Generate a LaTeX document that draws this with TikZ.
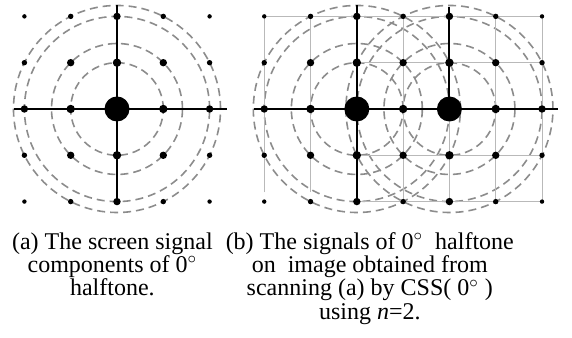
\documentclass[tikz,border=0pt]{standalone}
\usepackage{fontspec}
\setmainfont{Liberation Serif}
\begin{document}
\begin{tikzpicture}[
    x=23.15pt, y=23.15pt,
    eje/.style={line width=1pt, black},
    rejilla/.style={line width=0.5pt, gray!55},
    circulo/.style={line width=0.8pt, gray!90, dash pattern=on 4pt off 2.5pt},
    leyenda/.style={align=center, font=\fontsize{12}{11.6}\selectfont, inner sep=0pt, anchor=north}
  ]
  \useasboundingbox (-2.527,2.354) rectangle (9.827,-4.946);
  \coordinate (ca) at (0,0);
  \coordinate (cb) at (5.18,0);
  \coordinate (cc) at (7.18,0);

  % circulos de frecuencia
  \foreach \r in {1,1.4142,2,2.2361} {
    \draw[circulo] (ca) circle[radius=\r];
    \draw[circulo] (cb) circle[radius=\r];
    \draw[circulo] (cc) circle[radius=\r];
  }

  % rejilla de (b)
  \begin{scope}[shift={(cb)}]
    \draw[rejilla] (-2,-1.8) -- (-2,2) -- (4,2) -- (4,-2) -- (0,-2);
    \draw[rejilla] (-1,-1.8) -- (-1,2);
    \foreach \i in {1,3} \draw[rejilla] (\i,2) -- (\i,-2);
    \foreach \j in {1,-1} \draw[rejilla] (0,\j) -- (4,\j);
    \draw[rejilla] (2,0) -- (2,-2);
    \draw[eje] (-2.22,0) -- (4.34,0);
    \draw[eje] (0,2.25) -- (0,-2);
    \draw[eje] (2,2.2) -- (2,0);
  \end{scope}

  % ejes de (a)
  \draw[eje] (-2.22,0) -- (2.38,0);
  \draw[eje] (0,2.25) -- (0,-2);

  % puntos
  \foreach \i in {-2,...,2}
    \foreach \j in {-2,...,2} {
      \pgfmathsetmacro\dd{\i*\i+\j*\j}
      \pgfmathsetmacro\rr{\dd==0 ? 12.5 : (\dd==1 ? 4.2 : (\dd<5 ? 3.7 : (\dd==5 ? 2.7 : 2.2)))}
      \fill[shift={(ca)}] (\i,\j) circle[radius=\rr*0.5pt];
    }
  \foreach \i in {-2,...,4}
    \foreach \j in {-2,...,2} {
      \pgfmathsetmacro\dd{min(\i*\i+\j*\j,(\i-2)*(\i-2)+\j*\j)}
      \pgfmathsetmacro\rr{\dd==0 ? 12.5 : (\dd==1 ? 4.2 : (\dd<5 ? 3.7 : (\dd==5 ? 2.7 : 2.2)))}
      \fill[shift={(cb)}] (\i,\j) circle[radius=\rr*0.5pt];
    }

  % leyendas
  \node[leyenda] (capa) at (-0.1,-2.66) {(a) The screen signal\\components of 0$^\circ$\\halftone.};
  \node[leyenda] (capb) at (5.46,-2.66) {(b) The signals of 0$^\circ$\ \ halftone\\on\ \ image obtained from\\scanning (a) by CSS( 0$^\circ$ )\\using \textit{n}=2.};
\end{tikzpicture}
\end{document}
